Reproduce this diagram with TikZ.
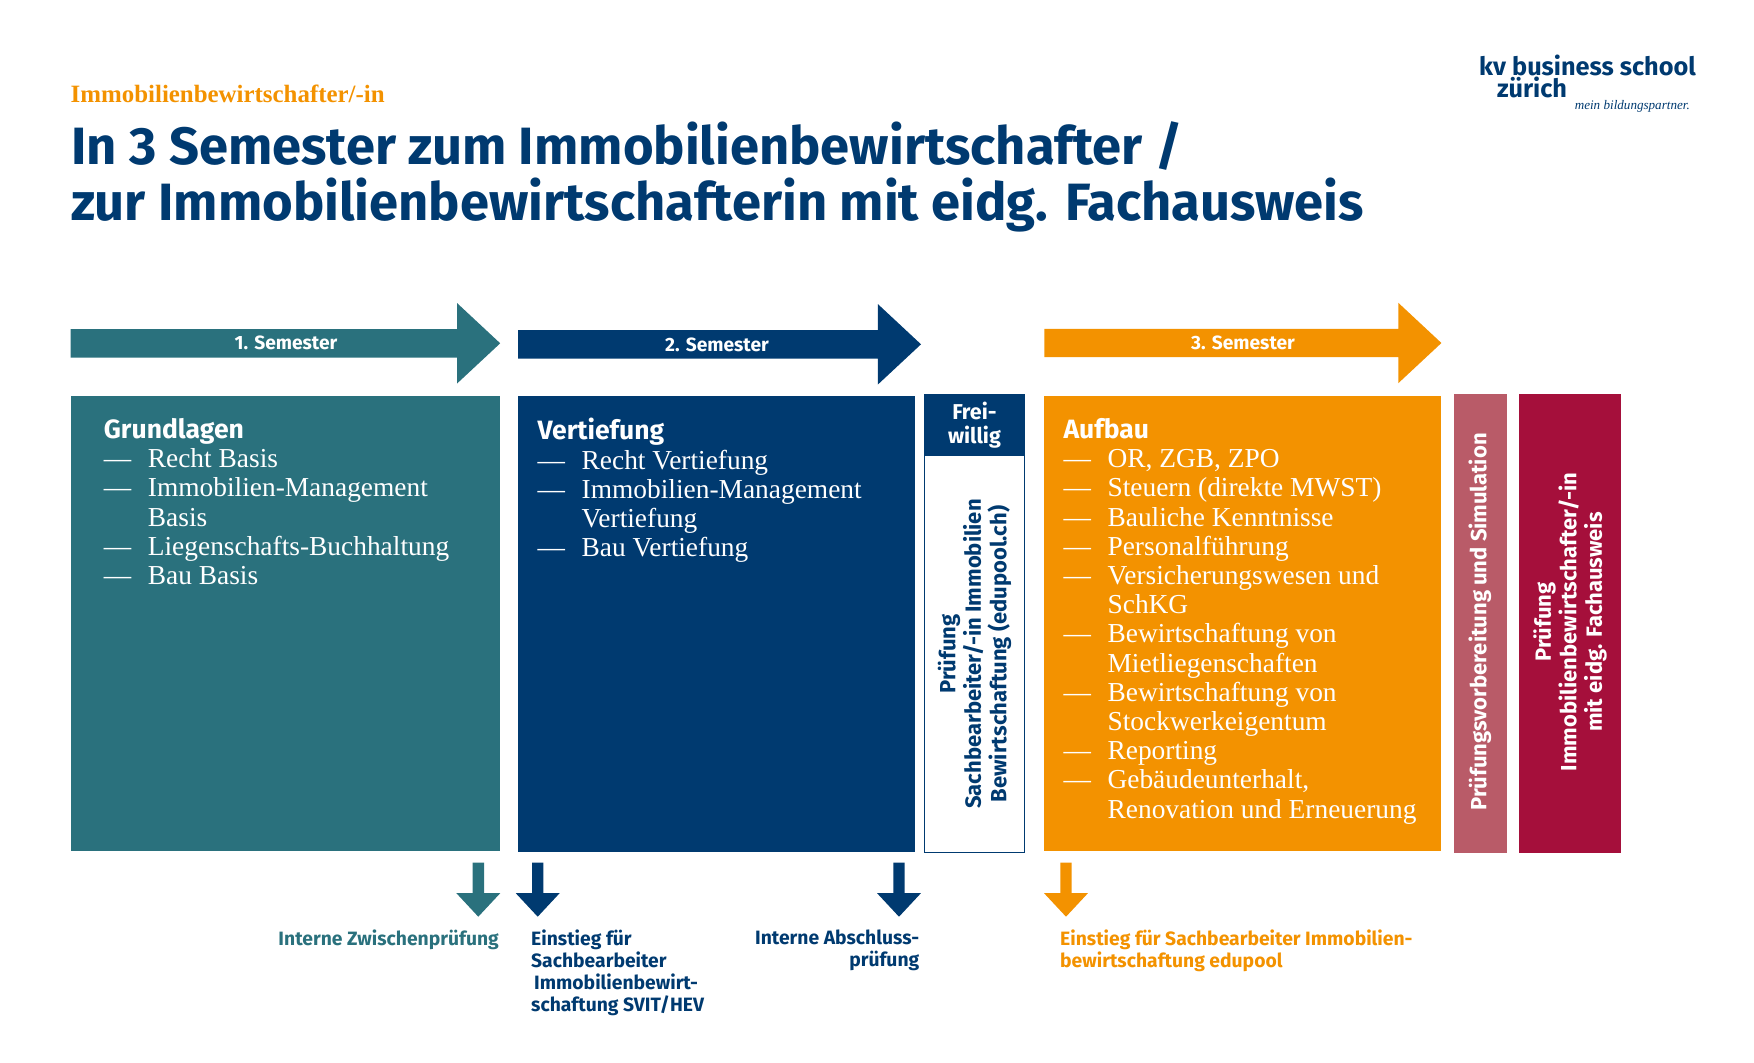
\documentclass[tikz,border=0pt]{standalone}
\usepackage{fontspec}
\setmainfont{Liberation Serif}
\setsansfont{Fira Sans}
\usetikzlibrary{shapes.arrows}

\definecolor{kvteal}{HTML}{2A717D}
\definecolor{kvblue}{HTML}{003A70}
\definecolor{kvorange}{HTML}{F39200}
\definecolor{kvrose}{HTML}{B95B68}
\definecolor{kvred}{HTML}{A50F3B}

\newcommand{\kvfont}[2]{\fontsize{#1}{#2}\selectfont}
\newcommand{\dashline}[1]{\makebox[44pt][l]{---}#1\\}
\newcommand{\contline}[1]{\hspace*{44pt}#1\\}

\begin{document}
\begin{tikzpicture}[x=1pt,y=-1pt]

		\tikzstyle{block}=[rectangle,anchor=north west,inner sep=0pt,outer sep=0pt]
		\tikzstyle{semesterarrow}=[single arrow,anchor=tail,inner xsep=0pt,inner ysep=14pt,outer sep=0pt,
			minimum width=80pt,single arrow head extend=26pt,single arrow tip angle=86]
		\tikzstyle{downarrow}=[single arrow,anchor=tail,shape border rotate=270,inner sep=5.5pt,outer sep=0pt,
			minimum width=43.5pt,minimum height=54pt,single arrow head extend=16.25pt,single arrow tip angle=86]
		\tikzstyle{semesterlabel}=[text=white,font=\sffamily\bfseries\kvfont{19.2}{22},inner sep=0pt]
		\tikzstyle{listtext}=[anchor=north west,text=white,align=left,inner sep=0pt,
			font=\kvfont{27.4}{29.2}]
		\tikzstyle{sidetext}=[rotate=90,align=center,inner sep=0pt,font=\sffamily\bfseries\kvfont{22}{25.4}]
		\tikzstyle{notetext}=[anchor=north west,inner sep=0pt,font=\sffamily\bfseries\kvfont{19.3}{21.8}]

		\useasboundingbox (0,0) rectangle (1754,1063);

		% header
		\node[anchor=north west,inner sep=0pt,text=kvorange,font=\bfseries\kvfont{24.9}{28}]	(kicker)	at (70.5,84.5)	{Immobilienbewirtschafter/-in};
		\node[anchor=north west,inner sep=0pt,text=kvblue,align=left,font=\sffamily\bfseries\kvfont{52.5}{56}]	(title)	at (71,121.5)	{In 3 Semester zum Immobilienbewirtschafter /\\zur Immobilienbewirtschafterin mit eidg. Fachausweis};

		% logo
		\node[anchor=north west,inner sep=0pt,text=kvblue,font=\sffamily\bfseries\kvfont{25.3}{22}]	(logoa)	at (1479,55)	{kv business school};
		\node[anchor=north west,inner sep=0pt,text=kvblue,font=\sffamily\bfseries\kvfont{25.3}{22}]	(logob)	at (1497,77)	{zürich};
		\node[anchor=north east,inner sep=0pt,text=kvblue,font=\itshape\kvfont{13.1}{16}]	(logoc)	at (1690,100)	{mein bildungspartner.};

		% semester arrows
		\node[semesterarrow,fill=kvteal,minimum height=429.5pt]	(arrowa)	at (70.7,343.3)	{};
		\node[semesterarrow,fill=kvblue,minimum height=403pt]	(arrowb)	at (518,344.3)	{};
		\node[semesterarrow,fill=kvorange,minimum height=397pt]	(arrowc)	at (1044.4,343)	{};
		\node[semesterlabel]	(labela)	at (286,343)	{1. Semester};
		\node[semesterlabel]	(labelb)	at (717,345)	{2. Semester};
		\node[semesterlabel]	(labelc)	at (1243,343)	{3. Semester};

		% main blocks
		\node[block,fill=kvteal,minimum width=429.3pt,minimum height=455pt]	(grundlagen)	at (70.7,395.7)	{};
		\node[block,fill=kvblue,minimum width=397pt,minimum height=456pt]	(vertiefung)	at (518,395.7)	{};
		\node[block,fill=white,draw=kvblue,semithick,minimum width=100pt,minimum height=457.5pt]	(freiwillig)	at (924.5,394.5)	{};
		\node[block,fill=kvblue,text=white,align=center,font=\sffamily\bfseries\kvfont{21.5}{23.5},minimum width=101.5pt,minimum height=62pt]	(freihead)	at (923.7,394)	{Frei-\\willig};
		\node[block,fill=kvorange,minimum width=397pt,minimum height=455.6pt]	(aufbau)	at (1044.4,395.7)	{};
		\node[block,fill=kvrose,minimum width=53.3pt,minimum height=459pt]	(simulation)	at (1453.6,393.7)	{};
		\node[block,fill=kvred,minimum width=102pt,minimum height=459pt]	(pruefung)	at (1519,393.7)	{};

		% block texts
		\node[listtext,xshift=33pt,yshift=-22.5pt]	(grundlagentext)	at (grundlagen.north west)	{{\sffamily\bfseries\kvfont{26.5}{29.2}\selectfont Grundlagen}\\
			\dashline{Recht Basis}
			\dashline{Immobilien-Management}
			\contline{Basis}
			\dashline{Liegenschafts-Buchhaltung}
			\dashline{Bau Basis}};
		\node[listtext,xshift=19.5pt,yshift=-22.5pt]	(vertiefungtext)	at (vertiefung.north west)	{{\sffamily\bfseries\kvfont{26.5}{29.2}\selectfont Vertiefung}\\
			\dashline{Recht Vertiefung}
			\dashline{Immobilien-Management}
			\contline{Vertiefung}
			\dashline{Bau Vertiefung}};
		\node[listtext,xshift=19pt,yshift=-22.5pt]	(aufbautext)	at (aufbau.north west)	{{\sffamily\bfseries\kvfont{26.5}{29.2}\selectfont Aufbau}\\
			\dashline{OR, ZGB, ZPO}
			\dashline{Steuern (direkte MWST)}
			\dashline{Bauliche Kenntnisse}
			\dashline{Personalführung}
			\dashline{Versicherungswesen und}
			\contline{SchKG}
			\dashline{Bewirtschaftung von}
			\contline{Mietliegenschaften}
			\dashline{Bewirtschaftung von}
			\contline{Stockwerkeigentum}
			\dashline{Reporting}
			\dashline{Gebäudeunterhalt,}
			\contline{Renovation und Erneuerung}};

		% rotated texts
		\node[sidetext,text=kvblue]	(freitext)	at (974.5,654)	{Prüfung\\Sachbearbeiter/-in Immobilien\\Bewirtschaftung (edupool.ch)};
		\node[sidetext,text=white]	(simtext)	at (1480,622)	{Prüfungsvorbereitung und Simulation};
		\node[sidetext,text=white]	(pruefungtext)	at (1570,622)	{Prüfung\\Immobilienbewirtschafter/-in\\mit eidg. Fachausweis};

		% down arrows
		\node[downarrow,fill=kvteal]	(downa)	at (478.3,862.7)	{};
		\node[downarrow,fill=kvblue]	(downb)	at (537.7,862.7)	{};
		\node[downarrow,fill=kvblue]	(downc)	at (899,862.7)	{};
		\node[downarrow,fill=kvorange]	(downd)	at (1066,862.7)	{};

		% notes
		\node[notetext,anchor=north east,text=kvteal]	(notea)	at (499,930)	{Interne Zwischenprüfung};
		\node[notetext,text=kvblue,align=left]	(noteb)	at (531,930)	{Einstieg für\\Sachbearbeiter\\\hspace*{3pt}Immobilienbewirt-\\schaftung SVIT/HEV};
		\node[notetext,anchor=north east,text=kvblue,align=right]	(notec)	at (919.5,930)	{Interne Abschluss-\\prüfung};
		\node[notetext,text=kvorange,align=left]	(noted)	at (1060,930)	{Einstieg für Sachbearbeiter Immobilien-\\bewirtschaftung edupool};

	\end{tikzpicture}
\end{document}
